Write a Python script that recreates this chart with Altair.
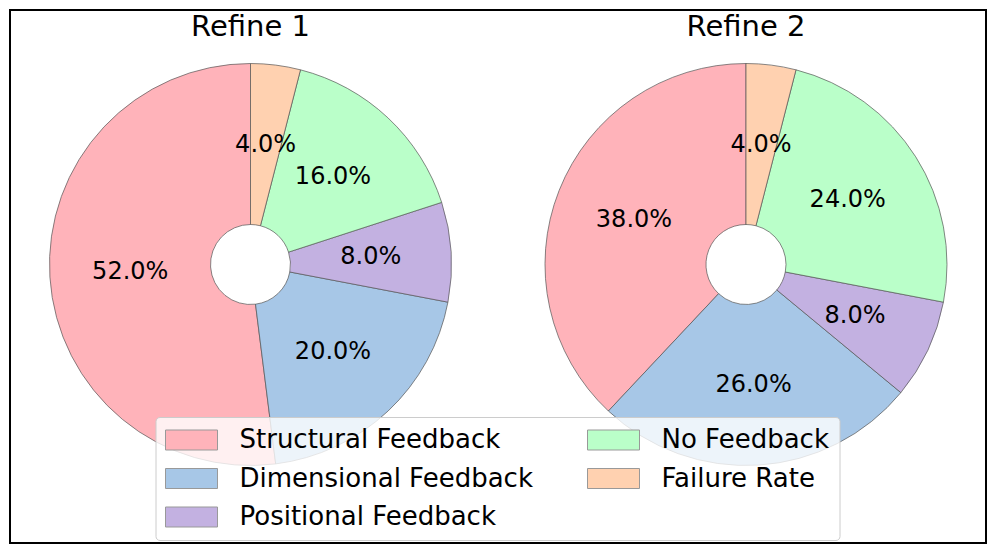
import altair as alt
import pandas as pd

# ---- data ----
categories = ["Structural Feedback", "Dimensional Feedback", "Positional Feedback",
              "No Feedback", "Failure Rate"]
refine1 = [52.0, 20.0, 8.0, 16.0, 4.0]
refine2 = [38.0, 26.0, 8.0, 24.0, 4.0]
panels = ["Refine 1", "Refine 2"]
colors = ["#FFB3BA", "#A7C7E7", "#C3B1E1", "#BAFFC9", "#FFD1B0"]
# clockwise drawing order starting at 12 o'clock
clockwise_rank = [4, 3, 2, 1, 0]

rows = []
for panel, vals in zip(panels, [refine1, refine2]):
    for cat, v, r in zip(categories, vals, clockwise_rank):
        rows.append({"panel": panel, "category": cat, "value": v, "ord": r,
                     "label": f"{v:.1f}%"})
df = pd.DataFrame(rows)
title_df = pd.DataFrame({"panel": panels})

color_scale = alt.Scale(domain=categories, range=colors)

FONT = "DejaVu Sans"
centers = {"Refine 1": 240.5, "Refine 2": 736.0}
CY = 254.5
R_OUT, R_IN, R_LAB = 201, 40, 120.5

layers = []
for panel in panels:
    cx = centers[panel]
    base = alt.Chart(df).transform_filter(alt.datum.panel == panel)
    theta = alt.Theta("value:Q", stack=True, scale=alt.Scale(domain=[0, 100]))
    order = alt.Order("ord:Q", sort="ascending")
    arc = base.mark_arc(outerRadius=R_OUT, innerRadius=R_IN, stroke="#555555",
                        strokeWidth=0.7).encode(
        theta=theta,
        order=order,
        color=alt.Color("category:N", scale=color_scale,
                        legend=alt.Legend(title=None)),
        x=alt.value(cx), y=alt.value(CY),
    )
    txt = base.mark_text(radius=R_LAB, font=FONT, fontSize=24, color="black",
                         align="center", baseline="middle").encode(
        theta=theta,
        order=order,
        text="label:N",
        x=alt.value(cx), y=alt.value(CY),
    )
    ttl = alt.Chart(title_df).transform_filter(alt.datum.panel == panel).mark_text(
        font=FONT, fontSize=29, color="black", align="center", baseline="alphabetic"
    ).encode(text="panel:N", x=alt.value(cx), y=alt.value(26))
    layers += [arc, txt, ttl]

chart = alt.layer(*layers).properties(
    width=976, height=533,
    autosize=alt.AutoSizeParams(type="none"),
    padding={"left": 2, "top": 2, "right": 2, "bottom": 2},
    background="white",
).configure_view(
    stroke="black", strokeWidth=2
).configure_legend(
    orient="none", legendX=145.5, legendY=407,
    direction="vertical", columns=2, columnPadding=52, rowPadding=12.5,
    padding=10, fillColor="rgba(255,255,255,0.8)", strokeColor="#cccccc",
    cornerRadius=4,
    symbolType="M-2.6,-1H2.6V1H-2.6Z", symbolSize=400, symbolOffset=13,
    symbolStrokeColor="#999999", symbolStrokeWidth=1, symbolOpacity=1,
    labelFont=FONT, labelFontSize=26, labelColor="black", labelLimit=600,
    labelOffset=35,
)

chart.save("out.html", embed_options={"renderer": "svg", "actions": False})
